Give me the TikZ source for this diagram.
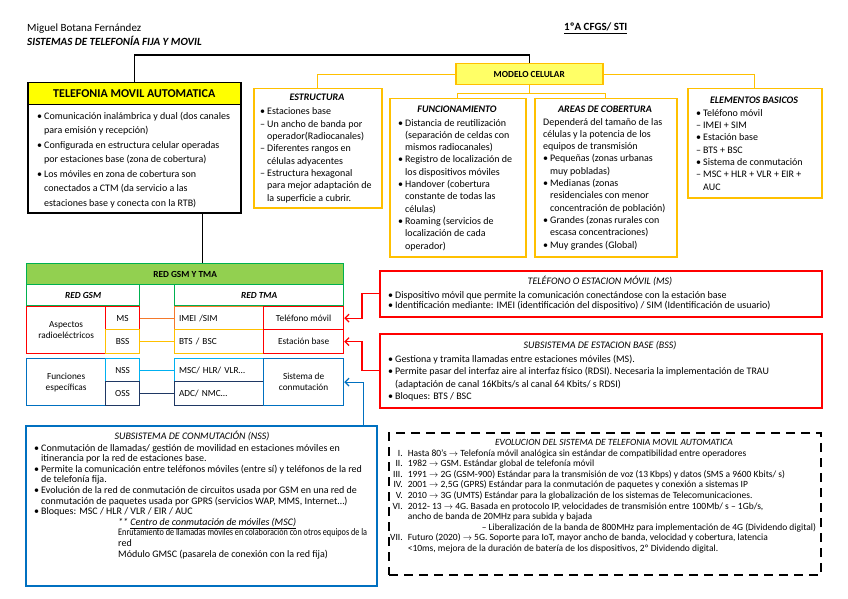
\documentclass[tikz,border=0pt]{standalone}
\usepackage{fontspec}
\setmainfont{Carlito}
\usetikzlibrary{arrows.meta}

\definecolor{amarillo}{HTML}{FFFF00}
\definecolor{amarclaro}{HTML}{FFFF66}
\definecolor{oro}{HTML}{FFC000}
\definecolor{naranja}{HTML}{F4792B}
\definecolor{verde}{HTML}{92D050}
\definecolor{verdeosc}{HTML}{00B050}
\definecolor{rojo}{HTML}{FF0000}
\definecolor{azul}{HTML}{0070C0}
\definecolor{celeste}{HTML}{00B0F0}
\definecolor{marino}{HTML}{1F3864}

\newcommand{\fcab}{\fontsize{11}{13}\selectfont}
\newcommand{\fgrande}{\fontsize{10}{14.5}\selectfont}
\newcommand{\fmedio}{\fontsize{10}{12.3}\selectfont}
\newcommand{\fpeq}{\fontsize{10}{10.6}\selectfont}
\newcommand{\fevol}{\fontsize{9.5}{10.6}\selectfont}
\newcommand{\ftabla}{\fontsize{9.3}{11}\selectfont}
\newcommand{\bul}{\makebox[7pt][l]{\textbullet}}
\newcommand{\gui}{\makebox[7pt][l]{--}}
\newcommand{\sig}{\hspace*{7pt}}

\begin{document}
\begin{tikzpicture}[x=1pt, y=-1pt, >={Straight Barb[length=4pt,width=8pt]},
	caja/.style={draw, anchor=north west, inner sep=0pt, line width=1.5pt},
	celda/.style={draw, anchor=north west, inner sep=0pt, line width=1.2pt, align=center, font=\ftabla},
	texto/.style={anchor=base west, inner sep=0pt, align=left},
	titulo/.style={anchor=base, inner sep=0pt},
	enlace/.style={line width=1.2pt}]
	\useasboundingbox[fill=white] (0,0) rectangle (848,599);

	% cabecera
	\node[anchor=base west, inner sep=0pt, font=\fcab] (autor) at (27,32) {Miguel Botana Fernández};
	\node[anchor=base west, inner sep=0pt, font=\fcab\bfseries\itshape] (asig) at (27,46) {SISTEMAS DE TELEFONÍA FIJA Y MOVIL};
	\node[anchor=base west, inner sep=0pt, font=\fcab\bfseries] (curso) at (564,31) {\underline{1ºA CFGS/ STI}};

	% telefonia movil automatica (texto anclado en su ultima linea)
	\node[caja, fill=amarillo, minimum width=213, minimum height=22, font=\fontsize{12}{14}\selectfont\bfseries] (tvm) at (27,82) {TELEFONIA MOVIL AUTOMATICA};
	\node[caja, minimum width=213, minimum height=108] (tvmcuerpo) at (27,104) {};
	\node[texto, font=\fgrande] (tvmtxt) at (37,206) {\bul Comunicación inalámbrica y dual (dos canales\\
		\sig para emisión y recepción)\\
		\bul Configurada en estructura celular operadas\\
		\sig por estaciones base (zona de cobertura)\\
		\bul Los móviles en zona de cobertura son\\
		\sig conectados a CTM (da servicio a las\\
		\sig estaciones base y conecta con la RTB)};

	% modelo celular
	\node[caja, draw=oro, fill=amarclaro, minimum width=147, minimum height=21, font=\fontsize{9.3}{11}\selectfont\bfseries] (modelo) at (455,63) {MODELO CELULAR};
	\node[caja, draw=oro, minimum width=128, minimum height=119] (estr) at (253,88) {};
	\node[caja, draw=oro, minimum width=136, minimum height=158] (func) at (389,98) {};
	\node[caja, draw=oro, minimum width=142, minimum height=158] (areas) at (534,98) {};
	\node[caja, draw=oro, minimum width=134, minimum height=109] (elem) at (687,88) {};

	\draw[enlace] (tvm.north) -- ++(0,-27) -| (modelo.north);
	\draw[enlace, oro] (modelo.west) -| (estr.north);
	\draw[enlace, oro] (modelo.east) -| (elem.north);
	\draw[enlace, oro] (modelo.south) -- ++(0,8) -| (func.north);
	\draw[enlace, oro] (modelo.south) ++(0,8) -| (areas.north);

	\node[titulo, font=\fmedio\bfseries\itshape] (estrtit) at (317,101) {ESTRUCTURA};
	\node[texto, font=\fmedio] (estrtxt) at (260,201) {\bul Estaciones base\\
		\gui Un ancho de banda por\\
		\sig operador(Radiocanales)\\
		\gui Diferentes rangos en\\
		\sig células adyacentes\\
		\gui Estructura hexagonal\\
		\sig para mejor adaptación de\\
		\sig la superficie a cubrir.};

	\node[titulo, font=\fmedio\bfseries\itshape] (functit) at (457,113) {FUNCIONAMIENTO};
	\node[texto, font=\fmedio] (functxt) at (398,249) {\bul Distancia de reutilización\\
		\sig (separación de celdas con\\
		\sig mismos radiocanales)\\
		\bul Registro de localización de\\
		\sig los dispositivos móviles\\
		\bul Handover (cobertura\\
		\sig constante de todas las\\
		\sig células)\\
		\bul Roaming (servicios de\\
		\sig localización de cada\\
		\sig operador)};

	\node[titulo, font=\fmedio\bfseries\itshape] (areastit) at (605,113) {AREAS DE COBERTURA};
	\node[texto, font=\fmedio] (areastxt) at (543,248) {Dependerá del tamaño de las\\
		células y la potencia de los\\
		equipos de transmisión\\
		\bul Pequeñas (zonas urbanas\\
		\sig muy pobladas)\\
		\bul Medianas (zonas\\
		\sig residenciales con menor\\
		\sig concentración de población)\\
		\bul Grandes (zonas rurales con\\
		\sig escasa concentraciones)\\
		\bul Muy grandes (Global)};

	\node[titulo, font=\fmedio\bfseries\itshape] (elemtit) at (754,103) {ELEMENTOS BASICOS};
	\node[texto, font=\fmedio] (elemtxt) at (696,190) {\bul Teléfono móvil\\
		\gui IMEI + SIM\\
		\bul Estación base\\
		\gui BTS + BSC\\
		\bul Sistema de conmutación\\
		\gui MSC + HLR + VLR + EIR +\\
		\sig AUC};

	% red GSM y TMA
	\node[celda, draw=verdeosc, fill=verde, minimum width=317, minimum height=21, font=\ftabla\bfseries] (gsmtma) at (26,263) {RED GSM Y TMA};
	\node[celda, draw=verdeosc, minimum width=113, minimum height=21, font=\ftabla\bfseries\itshape] (redgsm) at (26,284) {RED GSM};
	\node[celda, draw=verdeosc, minimum width=169, minimum height=21, font=\ftabla\bfseries\itshape] (redtma) at (174,284) {RED TMA};
	\draw[enlace] ([xshift=68pt]tvmcuerpo.south) -- ([xshift=68pt]tvmcuerpo.south |- gsmtma.north);

	\node[celda, draw=rojo, minimum width=79, minimum height=47] (aspectos) at (26,306) {Aspectos\\radioeléctricos};
	\node[celda, draw=rojo, minimum width=34, minimum height=23] (ms) at (105,306) {MS};
	\node[celda, draw=oro, minimum width=34, minimum height=24] (bss) at (105,329) {BSS};
	\node[celda, draw=naranja, minimum width=89, minimum height=23, text width=80, align=left] (imei) at (174,306) {IMEI /SIM};
	\node[celda, draw=oro, minimum width=89, minimum height=24, text width=80, align=left] (btsbsc) at (174,329) {BTS / BSC};
	\node[celda, draw=rojo, minimum width=80, minimum height=23] (telmov) at (263,306) {Teléfono móvil};
	\node[celda, draw=rojo, minimum width=80, minimum height=24] (estbase) at (263,329) {Estación base};

	\node[celda, draw=azul, minimum width=79, minimum height=47] (funciones) at (26,358) {Funciones\\específicas};
	\node[celda, draw=celeste, minimum width=34, minimum height=23] (nss) at (105,358) {NSS};
	\node[celda, draw=marino, minimum width=34, minimum height=24] (oss) at (105,381) {OSS};
	\node[celda, draw=celeste, minimum width=89, minimum height=23, text width=80, align=left] (msc) at (174,358) {MSC/ HLR/ VLR…};
	\node[celda, draw=marino, minimum width=89, minimum height=24, text width=80, align=left] (adc) at (174,381) {ADC/ NMC…};
	\node[celda, draw=azul, minimum width=80, minimum height=47] (sistconm) at (263,358) {Sistema de\\conmutación};

	\draw[enlace, naranja] (ms.east) -- (imei.west);
	\draw[enlace, oro] (bss.east) -- (btsbsc.west);
	\draw[enlace, celeste] (nss.east) -- (msc.west);
	\draw[enlace, marino] (oss.east) -- (adc.west);

	% telefono movil
	\node[caja, draw=rojo, minimum width=442, minimum height=46] (telbox) at (379,270) {};
	\node[titulo, font=\fpeq\itshape] (teltit) at (600,284) {TELÉFONO O ESTACION MÓVIL (MS)};
	\node[texto, font=\fpeq] (teltxt) at (388,308.6) {\bul Dispositivo móvil que permite la comunicación conectándose con la estación base\\
		\bul Identificación mediante: IMEI (identificación del dispositivo) / SIM (Identificación de usuario)};

	% subsistema de estacion base
	\node[caja, draw=rojo, minimum width=442, minimum height=74] (bssbox) at (379,333) {};
	\node[titulo, font=\fpeq\itshape] (bsstit) at (600,348) {SUBSISTEMA DE ESTACION BASE (BSS)};
	\node[texto, font=\fontsize{10}{12.6}\selectfont] (bsstxt) at (388,399.8) {\bul Gestiona y tramita llamadas entre estaciones móviles (MS).\\
		\bul Permite pasar del interfaz aire al interfaz físico (RDSI). Necesaria la implementación de TRAU\\
		\sig (adaptación de canal 16Kbits/s al canal 64 Kbits/ s RDSI)\\
		\bul Bloques: BTS / BSC};

	\draw[enlace, rojo, ->] (telbox.west) -- ++(-17,0) |- (telmov.east);
	\draw[enlace, rojo, ->] (bssbox.west) -- ++(-17,0) |- (estbase.east);

	% subsistema de conmutacion
	\node[caja, draw=azul, minimum width=351, minimum height=160] (nssbox) at (25,425) {};
	\draw[enlace, azul, ->] ([xshift=-14pt]nssbox.north east) |- (sistconm.east);
	\node[titulo, font=\fpeq\itshape] (nsstit) at (192,439) {SUBSISTEMA DE CONMUTACIÓN (NSS)};
	\node[texto, font=\fpeq] (nsstxt) at (34,557) {\bul Conmutación de llamadas/ gestión de movilidad en estaciones móviles en\\
		\sig itinerancia por la red de estaciones base.\\
		\bul Permite la comunicación entre teléfonos móviles (entre sí) y teléfonos de la red\\
		\sig de telefonía fija.\\
		\bul Evolución de la red de conmutación de circuitos usada por GSM en una red de\\
		\sig conmutación de paquetes usada por GPRS (servicios WAP, MMS, Internet…)\\
		\bul Bloques: MSC / HLR / VLR / EIR / AUC\\
		\hspace*{84pt}\textit{** \underline{Centro de conmutación de móviles (MSC)}}\\
		\hspace*{84pt}\scalebox{0.82}[1]{Enrutamiento de llamadas móviles en colaboración con otros equipos de la}\\
		\hspace*{84pt}red\\
		\hspace*{84pt}Módulo GMSC (pasarela de conexión con la red fija)};

	% evolucion
	\node[caja, line width=2pt, dash pattern=on 9pt off 6pt, minimum width=432, minimum height=142] (evol) at (388,432) {};
	\node[titulo, font=\fevol\itshape] (evoltit) at (614,445) {EVOLUCION DEL SISTEMA DE TELEFONIA MOVIL AUTOMATICA};
	\node[texto, font=\fevol] (evoltxt) at (390,456) {\begin{tabular}[t]{@{}r@{\hspace{5pt}}l@{}}
		I. & Hasta 80’s $\rightarrow$ Telefonía móvil analógica sin estándar de compatibilidad entre operadores\\
		II. & 1982 $\rightarrow$ GSM. Estándar global de telefonía móvil\\
		III. & 1991 $\rightarrow$ 2G (GSM-900) Estándar para la transmisión de voz (13 Kbps) y datos (SMS a 9600 Kbits/ s)\\
		IV. & 2001 $\rightarrow$ 2,5G (GPRS) Estándar para la conmutación de paquetes y conexión a sistemas IP\\
		V. & 2010 $\rightarrow$ 3G (UMTS) Estándar para la globalización de los sistemas de Telecomunicaciones.\\
		VI. & 2012- 13 $\rightarrow$ 4G. Basada en protocolo IP, velocidades de transmisión entre 100Mb/ s -- 1Gb/s,\\
		& ancho de banda de 20MHz para subida y bajada\\
		& \hspace*{74pt}-- Liberalización de la banda de 800MHz para implementación de 4G (Dividendo digital)\\
		VII. & Futuro (2020) $\rightarrow$ 5G. Soporte para IoT, mayor ancho de banda, velocidad y cobertura, latencia\\
		& <10ms, mejora de la duración de batería de los dispositivos, 2º Dividendo digital.
	\end{tabular}};
\end{tikzpicture}
\end{document}
